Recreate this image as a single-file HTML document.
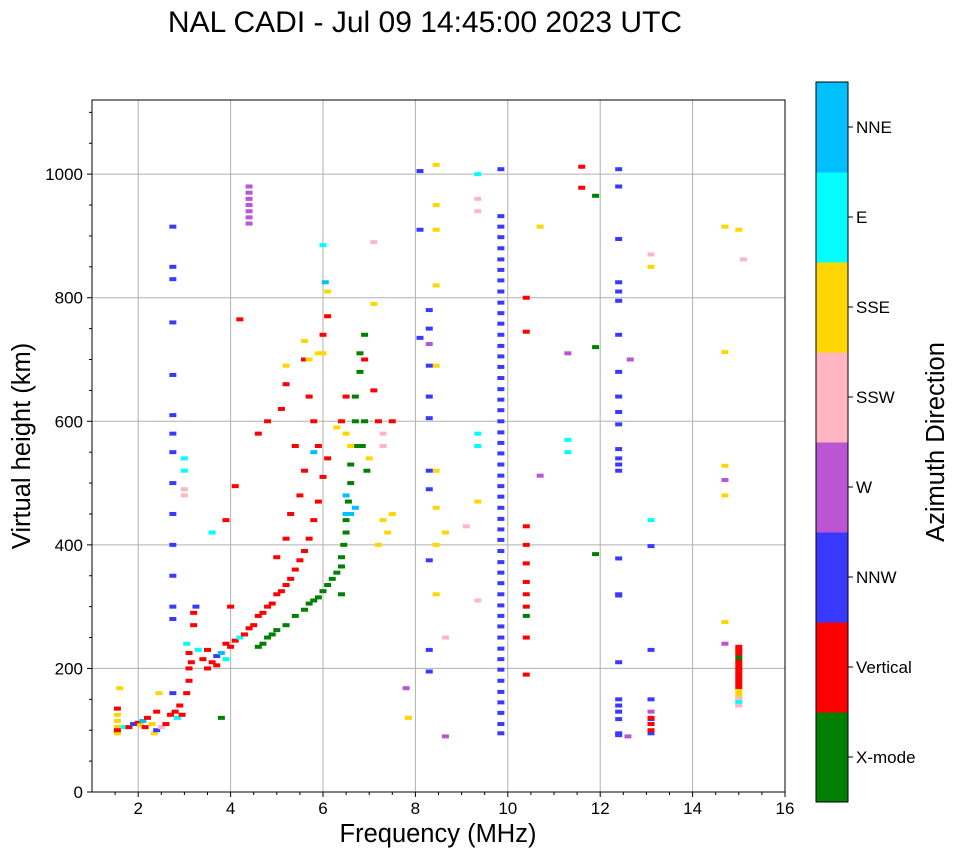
<!DOCTYPE html>
<html><head><meta charset="utf-8"><style>
body{margin:0;background:#fff;font-family:"Liberation Sans",sans-serif;}
svg text{font-family:"Liberation Sans",sans-serif;}
</style></head><body>
<svg id="chart" width="958" height="857" viewBox="0 0 958 857" xmlns="http://www.w3.org/2000/svg">
<text x="425" y="32" font-size="30" text-anchor="middle">NAL CADI - Jul 09 14:45:00 2023 UTC</text>
<g id="grid"></g>
<g id="marks"></g>
<rect x="92" y="100" width="693" height="692" fill="none" stroke="#000" stroke-width="1"/>
<g id="axes"></g>
<text x="438" y="842" font-size="25.5" text-anchor="middle">Frequency (MHz)</text>
<text transform="translate(30,446) rotate(-90)" font-size="25.5" text-anchor="middle">Virtual height (km)</text>
<g id="colorbar"></g>
<text transform="translate(944,442) rotate(-90)" font-size="25.5" text-anchor="middle">Azimuth Direction</text>
</svg>
<script>
const dirNames=["X-mode","Vertical","NNW","W","SSW","SSE","E","NNE"];
const dirColors=["#008000","#ff0000","#3a3aff","#ba55d3","#ffb6c1","#ffd700","#00ffff","#00bfff"];
const xTicks=[2,4,6,8,10,12,14,16];
const yTicks=[0,200,400,600,800,1000];
const freq=[1.55,1.55,1.55,1.55,1.55,1.55,1.6,1.7,1.8,1.9,2.0,2.05,2.1,2.15,2.2,2.3,2.35,2.4,2.4,2.45,2.5,2.6,2.7,2.75,2.8,2.85,2.9,2.95,3.05,3.1,3.1,3.1,3.05,3.15,3.2,3.2,3.25,3.3,3.4,3.5,3.5,3.6,3.7,3.7,3.8,3.9,3.9,4.0,4.1,4.2,4.3,4.4,4.5,4.6,4.7,4.8,4.9,5.0,5.1,5.2,5.3,5.4,5.5,5.6,5.7,5.8,5.9,6.0,6.1,
5.0,5.2,5.3,5.5,5.6,5.9,5.8,5.7,6.0,6.1,5.4,5.1,4.2,4.0,3.9,4.1,4.6,4.8,5.2,5.6,6.5,6.4,6.9,7.1,7.2,7.5,
4.6,4.7,4.8,4.9,5.0,5.2,5.4,5.6,5.7,5.8,5.9,6.0,6.1,6.2,6.3,6.4,6.4,6.45,6.5,6.5,6.55,6.6,6.6,6.7,6.7,6.7,6.8,6.8,6.9,6.85,6.9,6.95,6.4,
6.5,6.6,7.0,7.3,7.4,7.5,7.2,6.3,5.9,5.7,5.2,5.6,6.0,6.1,7.1,8.45,8.45,8.45,8.45,8.45,8.45,8.45,8.45,8.65,8.45,9.35,10.7,13.1,14.7,15.0,14.7,14.7,14.7,14.7,7.85,
6.5,6.5,6.7,6.05,5.8,6.6,
3.0,3.0,3.6,6.0,11.3,11.3,9.35,9.35,9.35,15.0,13.1,
3.0,3.0,7.3,7.3,7.1,13.1,15.1,9.35,9.35,9.1,8.65,9.35,15.0,
4.4,4.4,4.4,4.4,4.4,4.4,4.4,11.3,12.65,10.7,14.7,14.7,8.65,13.1,12.6,7.8,8.3,
9.85,9.85,9.85,9.85,9.85,9.85,9.85,9.85,9.85,9.85,9.85,9.85,9.85,9.85,9.85,9.85,9.85,9.85,9.85,9.85,9.85,9.85,9.85,9.85,9.85,9.85,9.85,9.85,9.85,9.85,9.85,9.85,9.85,9.85,9.85,9.85,9.85,9.85,9.85,9.85,9.85,9.85,9.85,9.85,9.85,9.85,9.85,9.85,9.85,9.85,
12.4,12.4,12.4,12.4,12.4,12.4,12.4,12.4,12.4,12.4,12.4,12.4,12.4,12.4,12.4,12.4,12.4,12.4,12.4,12.4,12.4,12.4,12.4,12.4,12.4,
8.3,8.3,8.3,8.3,8.3,8.3,8.3,8.3,8.3,8.3,8.1,8.1,8.1,13.1,13.1,13.1,13.1,13.1,13.1,
2.75,2.75,2.75,2.75,2.75,2.75,2.75,2.75,2.75,2.75,2.75,2.75,2.75,2.75,
15.0,15.0,15.0,15.0,15.0,15.0,15.0,15.0,15.0,15.0,15.0,15.0,15.0,15.0,15.0,15.0,15.0,
10.4,10.4,10.4,10.4,10.4,10.4,10.4,10.4,10.4,10.4,11.6,11.6,13.1,13.1,13.1,
11.9,11.9,11.9,10.4,3.8];
const height=[95,105,115,125,135,100,168,105,105,110,112,108,115,105,120,110,95,130,100,160,105,110,125,160,130,120,140,125,160,180,200,225,240,210,270,290,300,230,215,230,200,210,220,205,225,240,215,235,245,250,255,265,270,285,290,300,305,320,325,335,345,360,375,390,410,440,470,510,540,
380,410,450,480,520,560,600,640,740,770,560,620,765,300,440,495,580,600,660,700,640,600,700,650,600,600,
235,240,250,255,262,270,285,295,305,310,315,325,335,345,355,365,380,400,420,440,470,500,530,560,600,640,680,710,740,560,600,520,320,
580,560,540,440,420,450,400,590,710,700,690,730,710,810,790,1015,950,910,820,690,520,460,400,420,320,470,915,850,915,910,712,528,480,275,120,
480,450,460,825,550,450,
520,540,420,885,570,550,580,560,1000,140,440,
490,480,580,560,890,870,862,960,940,430,250,310,150,
980,960,940,920,970,950,930,710,700,512,505,240,90,130,90,168,725,
95,110,128,145,162,180,198,215,232,250,268,285,302,320,338,355,372,390,408,425,442,460,478,495,512,530,548,565,582,600,618,635,652,670,688,705,722,740,758,775,792,810,828,845,862,880,898,915,932,1008,
1008,980,895,825,810,795,740,680,640,615,595,555,540,530,520,378,320,318,210,150,140,130,118,95,92,
780,750,690,640,605,520,490,375,230,195,1005,910,735,398,230,150,118,110,95,
915,850,830,760,675,610,580,550,500,450,400,350,300,280,
140,146,152,158,164,170,176,182,188,194,200,206,212,218,224,230,235,
800,745,430,400,370,340,320,300,250,190,1012,978,120,110,100,
965,720,385,285,120];
const dir=[5,5,5,5,1,1,5,6,1,2,1,5,7,1,1,5,5,1,2,5,4,1,1,2,1,6,1,1,1,1,1,1,6,1,1,1,2,6,1,1,1,1,2,1,7,1,6,1,1,6,1,1,1,1,1,1,1,1,1,1,1,1,1,1,1,1,1,1,1,
1,1,1,1,1,1,1,1,1,1,1,1,1,1,1,1,1,1,1,1,1,1,1,1,1,1,
0,0,0,0,0,0,0,0,0,0,0,0,0,0,0,0,0,0,0,0,0,0,0,0,0,0,0,0,0,0,0,0,0,
5,5,5,5,5,5,5,5,5,5,5,5,5,5,5,5,5,5,5,5,5,5,5,5,5,5,5,5,5,5,5,5,5,5,5,
7,7,7,7,7,7,
6,6,6,6,6,6,6,6,6,6,6,
4,4,4,4,4,4,4,4,4,4,4,4,4,
3,3,3,3,3,3,3,3,3,3,3,3,3,3,3,3,3,
2,2,2,2,2,2,2,2,2,2,2,2,2,2,2,2,2,2,2,2,2,2,2,2,2,2,2,2,2,2,2,2,2,2,2,2,2,2,2,2,2,2,2,2,2,2,2,2,2,2,
2,2,2,2,2,2,2,2,2,2,2,2,2,2,2,2,2,2,2,2,2,2,2,2,2,
2,2,2,2,2,2,2,2,2,2,2,2,2,2,2,2,2,2,2,
2,2,2,2,2,2,2,2,2,2,2,2,2,2,
4,6,4,5,5,1,1,1,1,1,1,1,1,0,1,1,1,
1,1,1,1,1,1,1,1,1,1,1,1,1,1,1,
0,0,0,0,0];
const NS="http://www.w3.org/2000/svg";
const X0=92,X1=785,Y0=792,Y1=100,XMIN=1,XMAX=16,YMAX=1120;
const xs=v=>X0+(v-XMIN)/(XMAX-XMIN)*(X1-X0);
const ys=v=>Y0-v/YMAX*(Y0-Y1);
function mk(tag,attrs,parent){const e=document.createElementNS(NS,tag);for(const k in attrs)e.setAttribute(k,attrs[k]);parent.appendChild(e);return e;}
const grid=document.getElementById('grid'),axes=document.getElementById('axes'),marks=document.getElementById('marks'),cb=document.getElementById('colorbar');
xTicks.forEach(t=>{const x=xs(t);
 if(t<XMAX){const g=mk('line',{x1:x,x2:x,y1:Y1,y2:Y0,stroke:'#b0b0b0','stroke-width':1},grid);
 
 }
 mk('line',{x1:x,x2:x,y1:Y0,y2:Y0+5,stroke:'#000'},axes);
 const tx=mk('text',{x:x,y:Y0+22,'font-size':17,'text-anchor':'middle'},axes);tx.textContent=t;
 
 });
for(let v=1.5;v<16;v+=0.5){if(v%2===0)continue;const x=xs(v);mk('line',{x1:x,x2:x,y1:Y0,y2:Y0+3,stroke:'#000'},axes);}
yTicks.forEach(t=>{const y=ys(t);
 if(t>0){const g=mk('line',{x1:X0,x2:X1,y1:y,y2:y,stroke:'#b0b0b0','stroke-width':1},grid);
 
 }
 mk('line',{x1:X0-5,x2:X0,y1:y,y2:y,stroke:'#000'},axes);
 const tx=mk('text',{x:X0-9,y:y+6,'font-size':17,'text-anchor':'end'},axes);tx.textContent=t;
 
 });
for(let v=50;v<YMAX;v+=50){if(v%200===0)continue;const y=ys(v);mk('line',{x1:X0-3,x2:X0,y1:y,y2:y,stroke:'#000'},axes);}
for(let i=0;i<freq.length;i++){
 const r=mk('rect',{x:xs(freq[i])-3.5,y:ys(height[i])-2,width:7,height:4,fill:dirColors[dir[i]]},marks);
 
 }
const CBX=816,CBW=32,CBT=82,CBB=802,seg=(CBB-CBT)/8;
dirNames.forEach((n,i)=>{const y=CBB-(i+1)*seg;
 const r=mk('rect',{x:CBX,y:y,width:CBW,height:seg+0.5,fill:dirColors[i]},cb);
 
 
 mk('line',{x1:CBX+CBW,x2:CBX+CBW+5,y1:y+seg/2,y2:y+seg/2,stroke:'#000'},cb);
 const t=mk('text',{x:CBX+CBW+8,y:y+seg/2+6,'font-size':17},cb);t.textContent=n;
 
 });
mk('rect',{x:CBX,y:CBT,width:CBW,height:CBB-CBT,fill:'none',stroke:'#000'},cb);
</script>
</body></html>
